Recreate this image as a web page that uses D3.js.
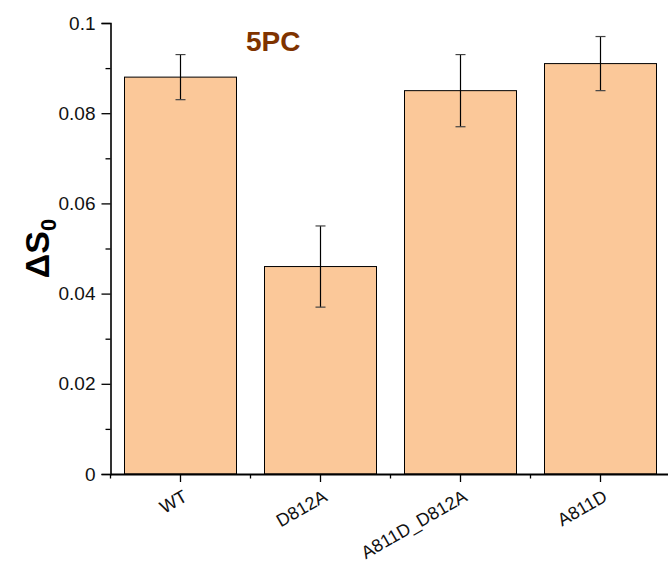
<!DOCTYPE html>
<html>
<head>
<meta charset="utf-8">
<script src="https://cdn.jsdelivr.net/npm/d3@7"></script>
<style>
  body { margin: 0; background: #fff; }
  text { font-family: "Liberation Sans", Arial, sans-serif; }
</style>
</head>
<body>
<script>
const categories = ['WT', 'D812A', 'A811D_D812A', 'A811D'];
const values = [0.088, 0.046, 0.085, 0.091];
const errLow = [0.083, 0.037, 0.077, 0.085];
const errHigh = [0.093, 0.055, 0.093, 0.097];
const yTicks = [0, 0.02, 0.04, 0.06, 0.08, 0.1];
const yMinorTicks = [0.01, 0.03, 0.05, 0.07, 0.09];
const title = '5PC';

const chart = {
  width: 668,
  height: 562,
  margin: { left: 110.5, right: -2.5, top: 23, bottom: 88 },
};
const innerW = chart.width - chart.margin.left - chart.margin.right;
const innerH = chart.height - chart.margin.top - chart.margin.bottom;

const svg = d3.select('body')
  .append('svg')
  .attr('width', chart.width)
  .attr('height', chart.height);

const g = svg.append('g')
  .attr('transform', `translate(${chart.margin.left}, ${chart.margin.top})`);

const xScale = d3.scaleBand()
  .domain(categories)
  .range([0, innerW])
  .paddingInner(0.2)
  .paddingOuter(0.1);

const yScale = d3.scaleLinear()
  .domain([0, 0.1])
  .range([innerH, 0]);

// bars
g.selectAll('rect.bar')
  .data(values)
  .enter()
  .append('rect')
    .attr('class', 'bar')
    .attr('x', (d, i) => xScale(categories[i]))
    .attr('y', d => yScale(d))
    .attr('width', xScale.bandwidth())
    .attr('height', d => innerH - yScale(d))
    .attr('fill', '#fbc899')
    .attr('stroke', '#000')
    .attr('stroke-width', 1);

// error bars
const cx = i => xScale(categories[i]) + xScale.bandwidth() / 2;
const err = g.append('g').attr('stroke', '#000').attr('stroke-width', 1.2);
categories.forEach((c, i) => {
  err.append('line')
    .attr('x1', cx(i)).attr('x2', cx(i))
    .attr('y1', yScale(errLow[i])).attr('y2', yScale(errHigh[i]));
  [errLow[i], errHigh[i]].forEach(v => {
    err.append('line')
      .attr('x1', cx(i) - 5).attr('x2', cx(i) + 5)
      .attr('y1', yScale(v)).attr('y2', yScale(v))
      .attr('stroke', '#444');
  });
});

// y axis
const yaxis = g.append('g')
  .call(d3.axisLeft(yScale).tickValues(yTicks).tickSize(9).tickPadding(6)
    .tickFormat(d => d === 0 ? '0' : String(+d.toFixed(2))));
yaxis.select('.domain').attr('stroke-width', 1.6);
yaxis.selectAll('.tick line').attr('stroke-width', 1.3);
yaxis.selectAll('text')
  .attr('font-size', 19)
  .attr('fill', '#111')
  .style('font-family', '"Liberation Sans", Arial, sans-serif');

g.append('g')
  .call(d3.axisLeft(yScale).tickValues(yMinorTicks).tickSize(5).tickFormat(''))
  .call(s => s.select('.domain').remove())
  .selectAll('line').attr('stroke-width', 1.3);

// x axis
const xaxis = g.append('g')
  .attr('transform', `translate(0, ${innerH})`)
  .call(d3.axisBottom(xScale).tickSize(8).tickSizeOuter(0));
xaxis.select('.domain').attr('stroke-width', 2.2);
xaxis.selectAll('.tick line').attr('stroke-width', 1.3);
xaxis.selectAll('text')
  .attr('font-size', 18)
  .attr('fill', '#111')
  .attr('text-anchor', 'end')
  .attr('dy', null)
  .attr('y', null)
  .attr('transform', 'translate(8, 26) rotate(-30)')
  .style('font-family', '"Liberation Sans", Arial, sans-serif');

const step = xScale.step();
const bounds = d3.range(categories.length + 1).map(i => xScale(categories[0]) - step * 0.1 + i * step);
g.append('g')
  .selectAll('line')
  .data(bounds)
  .enter()
  .append('line')
    .attr('x1', d => d).attr('x2', d => d)
    .attr('y1', innerH).attr('y2', innerH + 4.5)
    .attr('stroke', '#000')
    .attr('stroke-width', 1.3);

// y title
svg.append('text')
  .attr('transform', `translate(49, ${chart.margin.top + innerH / 2}) rotate(-90)`)
  .attr('text-anchor', 'middle')
  .attr('font-size', 34)
  .attr('font-weight', 'bold')
  .attr('fill', '#000')
  .text('ΔS')
  .append('tspan')
    .attr('font-size', 22)
    .attr('dy', 7)
    .text('0');

// title
svg.append('text')
  .attr('x', 246)
  .attr('y', 51)
  .attr('font-size', 28)
  .attr('font-weight', 'bold')
  .attr('fill', '#7f3300')
  .text(title);
</script>
</body>
</html>
